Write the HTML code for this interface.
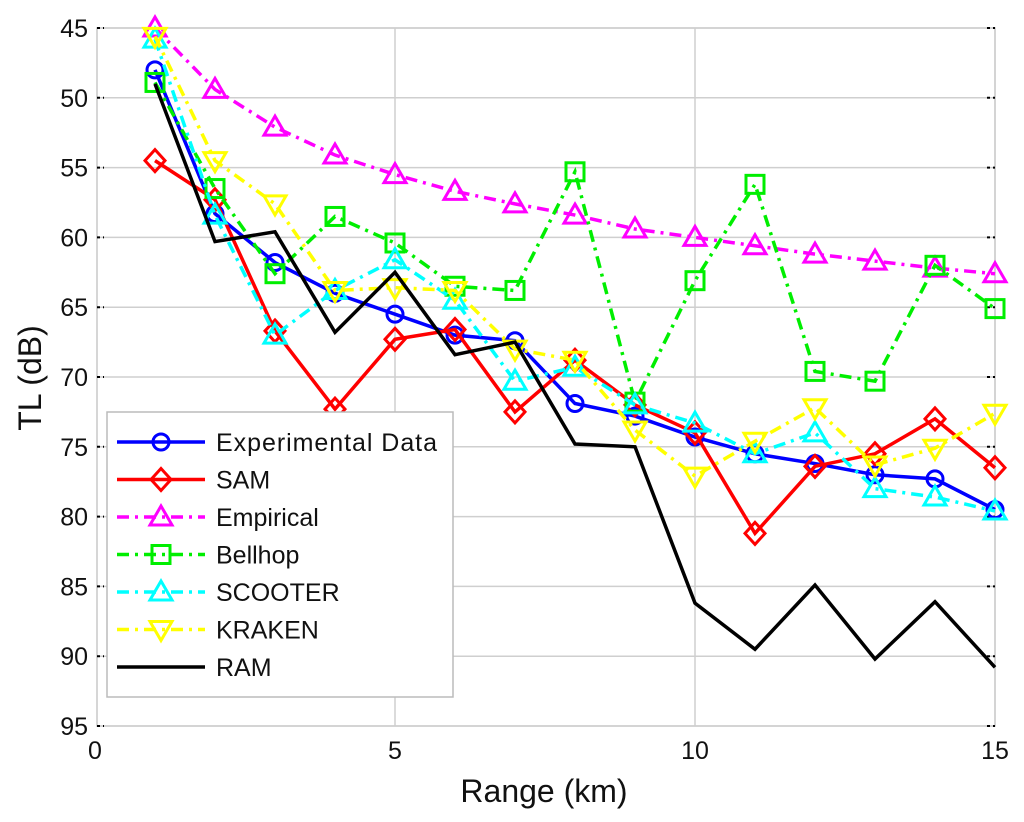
<!DOCTYPE html>
<html><head><meta charset="utf-8"><style>
html,body{margin:0;padding:0;background:#fff;}
svg{display:block;font-family:"Liberation Sans",Arial,sans-serif;}
</style></head><body>
<svg id="chart" width="1024" height="822" viewBox="0 0 1024 822" xmlns="http://www.w3.org/2000/svg">
<g id="grid"></g>
<g id="axes"></g>
<g id="series"></g>
<g id="legend"></g>
</svg>
<script>
const ranges = [1,2,3,4,5,6,7,8,9,10,11,12,13,14,15];
const experimental = [48,58.3,61.8,64,65.5,67,67.4,71.9,72.8,74.3,75.5,76.2,77,77.3,79.5];
const sam = [54.5,57.3,66.7,72.3,67.3,66.6,72.5,68.8,72,74,81.2,76.4,75.5,73,76.5];
const empirical = [45,49.4,52.1,54.1,55.5,56.7,57.6,58.4,59.4,60,60.6,61.2,61.7,62.2,62.6];
const bellhop = [48.9,56.5,62.6,58.5,60.4,63.5,63.8,55.3,71.8,63.1,56.2,69.6,70.3,62,65.1];
const scooter = [45.8,58.4,67,63.8,61.6,64.5,70.3,69.3,72,73.3,75.5,74,78,78.6,79.6];
const kraken = [45.6,54.5,57.6,63.8,63.6,63.8,68,68.8,73.8,77.1,74.6,72.2,76.3,75.1,72.6];
const ram = [49,60.3,59.6,66.8,62.5,68.4,67.5,74.8,75,86.2,89.5,84.9,90.2,86.1,90.8];
const xTicks = [0,5,10,15];
const yTicks = [45,50,55,60,65,70,75,80,85,90,95];

const NS="http://www.w3.org/2000/svg";
const X0=95,X1=995,Y0=28,Y1=726;
function xs(v){return X0+(v-0)/15*(X1-X0);}
function ys(v){return Y0+(v-45)/50*(Y1-Y0);}
function mk(tag,attrs,parent){const e=document.createElementNS(NS,tag);for(const k in attrs)e.setAttribute(k,attrs[k]);parent.appendChild(e);return e;}

const grid=document.getElementById('grid'),axes=document.getElementById('axes'),ser=document.getElementById('series'),leg=document.getElementById('legend');
mk('rect',{x:97,y:Y0,width:X1-97,height:Y1-Y0,fill:'none',stroke:'#c8c8c8','stroke-width':1.5},grid);
yTicks.forEach(t=>{
  const l=mk('line',{x1:97,x2:X1,y1:ys(t),y2:ys(t),stroke:'#cfcfcf','stroke-width':1.5},grid);
  
  
  mk('line',{x1:97,x2:104,y1:ys(t),y2:ys(t),stroke:'#000','stroke-width':2,'stroke-dasharray':'3,3'},axes);
  mk('line',{x1:X1-8,x2:X1,y1:ys(t),y2:ys(t),stroke:'#000','stroke-width':2,'stroke-dasharray':'3,3'},axes);
  const tx=mk('text',{x:88,y:ys(t)+9,'text-anchor':'end','font-size':25,fill:'#111'},axes);
  tx.textContent=t;
  
  
});
xTicks.forEach(t=>{
  if(t>0){const l=mk('line',{x1:xs(t),x2:xs(t),y1:Y0,y2:Y1,stroke:'#cfcfcf','stroke-width':1.5},grid);
  
  }
  const tx=mk('text',{x:xs(t),y:759,'text-anchor':'middle','font-size':25,fill:'#111'},axes);
  tx.textContent=t;
  
  
});
const xt=mk('text',{x:544,y:802,'text-anchor':'middle','font-size':32,fill:'#111'},axes);
xt.textContent='Range (km)';


const yt=mk('text',{x:0,y:0,'text-anchor':'middle','font-size':32,fill:'#111',transform:'translate(41,378) rotate(-90)'},axes);
yt.textContent='TL (dB)';



function marker(type,x,y,color,parent){
  const r=9,a={fill:'none',stroke:color,'stroke-width':3};
  let e;
  if(type==='o') e=mk('circle',Object.assign({cx:x,cy:y,r:8},a),parent);
  else if(type==='d') e=mk('polygon',Object.assign({points:`${x},${y-11} ${x+10},${y} ${x},${y+11} ${x-10},${y}`},a),parent);
  else if(type==='^') e=mk('polygon',Object.assign({points:`${x},${y-11} ${x+11},${y+8} ${x-11},${y+8}`},a),parent);
  else if(type==='v') e=mk('polygon',Object.assign({points:`${x},${y+11} ${x+11},${y-8} ${x-11},${y-8}`},a),parent);
  else if(type==='s') e=mk('rect',Object.assign({x:x-r,y:y-r,width:2*r,height:2*r},a),parent);
  if(e){}
}
const DD='12,6,3,6';
const seriesList=[
 {name:'Experimental Data',key:'experimental',vals:experimental,color:'#0000ff',dash:'',m:'o'},
 {name:'SAM',key:'sam',vals:sam,color:'#ff0000',dash:'',m:'d'},
 {name:'Empirical',key:'empirical',vals:empirical,color:'#ff00ff',dash:DD,m:'^'},
 {name:'Bellhop',key:'bellhop',vals:bellhop,color:'#00ee00',dash:DD,m:'s'},
 {name:'SCOOTER',key:'scooter',vals:scooter,color:'#00ffff',dash:DD,m:'^'},
 {name:'KRAKEN',key:'kraken',vals:kraken,color:'#ffff00',dash:DD,m:'v'},
 {name:'RAM',key:'ram',vals:ram,color:'#000000',dash:'',m:null}
];
seriesList.forEach(s=>{
  const g=mk('g',{},ser);
  
  
  const pts=s.vals.map((v,i)=>xs(ranges[i])+','+ys(v)).join(' ');
  const pl=mk('polyline',{points:pts,fill:'none',stroke:s.color,'stroke-width':3.5,'stroke-dasharray':s.dash||'none','stroke-linejoin':'miter'},g);
  
  
  if(s.m) s.vals.forEach((v,i)=>marker(s.m,xs(ranges[i]),ys(v),s.color,g));
});
const lb=mk('rect',{x:107,y:412,width:346,height:285,fill:'#fff',stroke:'#bbb','stroke-width':1.5},leg);


seriesList.forEach((s,i)=>{
  const y=442+i*37.5;
  const g=mk('g',{},leg);
  
  
  mk('line',{x1:117,x2:205,y1:y,y2:y,stroke:s.color,'stroke-width':3.5,'stroke-dasharray':s.dash||'none'},g);
  if(s.m) marker(s.m,161,y,s.color,g);
  const t=mk('text',{x:216,y:y+9,'font-size':25,fill:'#111','textLength':s.name==='Experimental Data'?221:null},g);
  if(s.name!=='Experimental Data') t.removeAttribute('textLength');
  t.textContent=s.name;
});
</script>
</body></html>
